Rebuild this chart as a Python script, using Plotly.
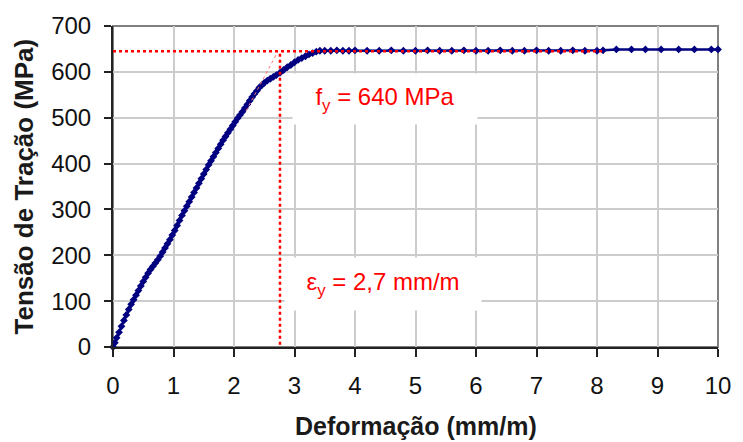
import plotly.graph_objects as go

# Strain (mm/m) and stress (MPa)
strain = [0.00, 0.03, 0.06, 0.10, 0.14, 0.18, 0.22, 0.26, 0.30, 0.34, 0.38, 0.42, 0.46, 0.50,
          0.54, 0.58, 0.62, 0.66, 0.70, 0.74, 0.78, 0.82, 0.86, 0.90, 0.94, 0.98, 1.02, 1.06,
          1.10, 1.14, 1.18, 1.22, 1.26, 1.30, 1.34, 1.38, 1.42, 1.46, 1.50, 1.54, 1.58, 1.62,
          1.66, 1.70, 1.74, 1.78, 1.82, 1.86, 1.90, 1.94, 1.98, 2.02, 2.06, 2.10, 2.14, 2.18,
          2.22, 2.26, 2.30, 2.34, 2.38, 2.42, 2.46, 2.50, 2.55, 2.60, 2.65, 2.70, 2.76, 2.82,
          2.88, 2.94, 3.00, 3.06, 3.12, 3.18, 3.24, 3.30, 3.36, 3.42, 3.50, 3.60, 3.70, 3.80,
          3.90, 4.00, 4.20, 4.40, 4.60, 4.80, 5.00, 5.20, 5.40, 5.60, 5.80, 6.00, 6.20, 6.40,
          6.60, 6.80, 7.00, 7.20, 7.40, 7.60, 7.80, 8.00, 8.10, 8.32, 8.57, 8.80, 9.06, 9.35,
          9.61, 9.89, 10.00]
stress = [0, 9, 20, 32, 45, 58, 70, 82, 93, 103, 113, 123, 133, 143,
          152, 161, 169, 176, 183, 190, 198, 207, 216, 225, 234, 244, 254, 265,
          276, 287, 297, 307, 317, 327, 337, 347, 357, 367, 377, 387, 397, 406,
          415, 424, 433, 442, 451, 459, 467, 475, 483, 491, 499, 506, 513, 521,
          529, 537, 545, 552, 559, 566, 571, 576, 581, 585, 589, 593, 598, 604,
          610, 615, 621, 626, 630, 634, 638, 641, 644, 646, 646, 646, 647, 646,
          646, 647, 646, 646, 647, 646, 646, 647, 646, 646, 647, 646, 646, 647,
          646, 646, 647, 646, 646, 647, 646, 646, 647, 649, 649, 649, 649, 649,
          649, 649, 649]

# Yield reference values
yield_stress_line = 645     # MPa (dotted horizontal)
yield_strain = 2.76         # mm/m (dotted vertical)
plateau_end = 8.1           # end of dotted horizontal line
tangent_x = [2.20, 2.72]    # faint dotted extension of the elastic branch
tangent_y = [515, 643]

x_ticks = [0, 1, 2, 3, 4, 5, 6, 7, 8, 9, 10]
y_ticks = [0, 100, 200, 300, 400, 500, 600, 700]

FONT = "Liberation Sans, Arial, sans-serif"
NAVY = "#000080"
RED = "#FF0000"

fig = go.Figure()

fig.add_trace(go.Scatter(
    x=strain, y=stress, mode="lines+markers",
    line=dict(color=NAVY, width=2.5),
    marker=dict(color=NAVY, size=6, symbol="diamond"),
    cliponaxis=False, showlegend=False))

fig.add_trace(go.Scatter(
    x=tangent_x, y=tangent_y, mode="lines",
    line=dict(color="#FF7070", width=1, dash="dot"), showlegend=False))

fig.add_trace(go.Scatter(
    x=[0, plateau_end], y=[yield_stress_line, yield_stress_line], mode="lines",
    line=dict(color=RED, width=2.5, dash="dot"), showlegend=False))

fig.add_trace(go.Scatter(
    x=[yield_strain, yield_strain], y=[5, yield_stress_line], mode="lines",
    line=dict(color=RED, width=2.5, dash="dot"), showlegend=False))

fig.add_annotation(
    x=4.5, y=540, xref="x", yref="y", showarrow=False,
    text="f<sub>y</sub> = 640 MPa",
    font=dict(family=FONT, size=24, color=RED),
    bgcolor="white", width=176, height=42, borderpad=4)

fig.add_annotation(
    x=4.47, y=137, xref="x", yref="y", showarrow=False,
    text="ε<sub>y</sub> = 2,7 mm/m",
    font=dict(family=FONT, size=24, color=RED),
    bgcolor="white", width=188, height=44, borderpad=4)

# Axis titles
fig.add_annotation(
    x=0, y=0.5, xref="paper", yref="paper", xshift=-90, showarrow=False,
    textangle=-90, text="<b>Tensão de Tração (MPa)</b>",
    font=dict(family=FONT, size=26, color="#1a1a1a"),
    xanchor="center", yanchor="middle")
fig.add_annotation(
    x=0.5, y=0, xref="paper", yref="paper", yshift=-79, showarrow=False,
    text="<b>Deformação (mm/m)</b>",
    font=dict(family=FONT, size=25, color="#1a1a1a"),
    xanchor="center", yanchor="middle")

fig.add_shape(type="rect", xref="paper", yref="paper", x0=0, y0=0, x1=1, y1=1,
              line=dict(color="#7f7f7f", width=2), layer="below")

fig.update_xaxes(
    range=[0, 10], tickvals=x_ticks, ticktext=[str(v) for v in x_ticks],
    showgrid=True, gridcolor="#cccccc", gridwidth=1.5,
    showline=True, linecolor="#222222", linewidth=2,
    ticks="outside", ticklen=8, tickwidth=1.5, tickcolor="#222222",
    ticklabelstandoff=8, zeroline=False,
    tickfont=dict(family=FONT, size=24, color="#111111"))
fig.update_yaxes(
    range=[0, 700], tickvals=y_ticks, ticktext=[str(v) for v in y_ticks],
    showgrid=True, gridcolor="#cccccc", gridwidth=1.5,
    showline=True, linecolor="#222222", linewidth=2,
    ticks="outside", ticklen=7, tickwidth=1.5, tickcolor="#222222",
    ticklabelstandoff=8, zeroline=False,
    tickfont=dict(family=FONT, size=24, color="#111111"))

fig.update_layout(
    width=743, height=442,
    margin=dict(l=113, r=19, t=25, b=95),
    paper_bgcolor="white", plot_bgcolor="white",
    showlegend=False)

fig.write_html(
    "out.html",
    config={"displayModeBar": False},
    post_script="document.body.style.margin='0';document.body.style.overflow='hidden';")
